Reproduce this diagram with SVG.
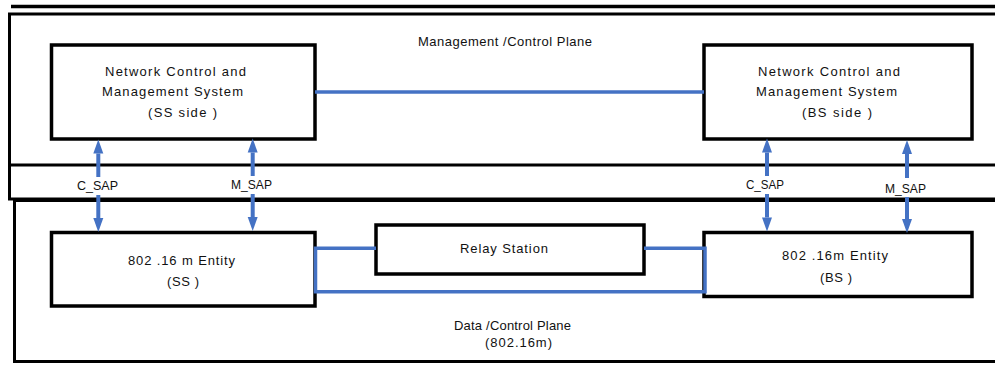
<svg xmlns="http://www.w3.org/2000/svg" width="995" height="368" viewBox="0 0 995 368">
<defs>
<style>
.frame{fill:none;stroke:#000;stroke-width:3}
.box{fill:#fff;stroke:#000;stroke-width:3.5}
.t{font-family:"Liberation Sans",Arial,sans-serif;font-size:13px;fill:#111}
.c{fill:none;stroke:#4472C4;stroke-width:3.5}
.a{fill:none;stroke:#4472C4;stroke-width:4}
</style>
<marker id="ah" markerUnits="userSpaceOnUse" markerWidth="15" markerHeight="11" refX="0" refY="5" orient="auto" overflow="visible">
<path d="M0,0 L14,5 L0,10 z" fill="#4472C4"/>
</marker>
</defs>
<rect width="995" height="368" fill="#fff"/>
<g id="frames">
<line x1="11" y1="6.5" x2="1000" y2="6.5" stroke="#000" stroke-width="3.5"/>
<rect class="frame" x="9.5" y="14" width="995" height="185"/>
<line x1="9.5" y1="165" x2="1000" y2="165" stroke="#000" stroke-width="3"/>
<rect class="frame" x="14.5" y="200.5" width="995" height="161" stroke-width="3.5"/>
<text class="t" x="418" y="45.5" textLength="174" lengthAdjust="spacing">Management /Control Plane</text>
<text class="t" x="454" y="330" textLength="117" lengthAdjust="spacing">Data /Control Plane</text>
<text class="t" x="485" y="346.5" textLength="67" lengthAdjust="spacing">(802.16m)</text>
</g>
<g id="ncms-ss">
<rect class="box" x="51.5" y="45" width="263.5" height="94"/>
<text class="t" x="105" y="76" textLength="141" lengthAdjust="spacing">Network Control and</text>
<text class="t" x="102" y="96" textLength="141" lengthAdjust="spacing">Management System</text>
<text class="t" x="148" y="117" textLength="69" lengthAdjust="spacing">(SS side )</text>
</g>
<g id="ncms-bs">
<rect class="box" x="704" y="45" width="268" height="94"/>
<text class="t" x="758" y="76" textLength="142" lengthAdjust="spacing">Network Control and</text>
<text class="t" x="756" y="96" textLength="141" lengthAdjust="spacing">Management System</text>
<text class="t" x="802" y="117" textLength="70" lengthAdjust="spacing">(BS side )</text>
</g>
<g id="entity-ss">
<rect class="box" x="51.5" y="232.5" width="263.5" height="73.5"/>
<text class="t" x="128" y="265" textLength="107" lengthAdjust="spacing">802 .16 m Entity</text>
<text class="t" x="167" y="286" textLength="32" lengthAdjust="spacing">(SS )</text>
</g>
<g id="relay">
<rect class="box" x="376" y="225" width="268" height="49"/>
<text class="t" x="460" y="253" textLength="88" lengthAdjust="spacing">Relay Station</text>
</g>
<g id="entity-bs">
<rect class="box" x="704" y="232.5" width="268" height="64"/>
<text class="t" x="782" y="260" textLength="106" lengthAdjust="spacing">802 .16m Entity</text>
<text class="t" x="820" y="281.5" textLength="32" lengthAdjust="spacing">(BS )</text>
</g>
<g id="connectors">
<polyline class="c" points="315,92 704,92"/>
<polyline class="c" points="376,248.3 315.5,248.3 315.5,291.7 705,291.7 705,248.3 644,248.3"/>
<line class="a" x1="98.3" y1="177" x2="98.3" y2="153.5" marker-end="url(#ah)"/>
<line class="a" x1="98.3" y1="195" x2="98.3" y2="218" marker-end="url(#ah)"/>
<line class="a" x1="252.7" y1="176" x2="252.7" y2="152.5" marker-end="url(#ah)"/>
<line class="a" x1="252.7" y1="194" x2="252.7" y2="217" marker-end="url(#ah)"/>
<line class="a" x1="767" y1="176" x2="767" y2="152.5" marker-end="url(#ah)"/>
<line class="a" x1="767" y1="194" x2="767" y2="217.5" marker-end="url(#ah)"/>
<line class="a" x1="907" y1="178" x2="907" y2="154" marker-end="url(#ah)"/>
<line class="a" x1="907" y1="197" x2="907" y2="219" marker-end="url(#ah)"/>
<text class="t" x="77" y="190" textLength="41" lengthAdjust="spacingAndGlyphs">C_SAP</text>
<text class="t" x="231" y="189" textLength="41" lengthAdjust="spacingAndGlyphs">M_SAP</text>
<text class="t" x="746" y="189" textLength="38" lengthAdjust="spacingAndGlyphs">C_SAP</text>
<text class="t" x="885" y="192.5" textLength="41" lengthAdjust="spacingAndGlyphs">M_SAP</text>
</g>
</svg>
